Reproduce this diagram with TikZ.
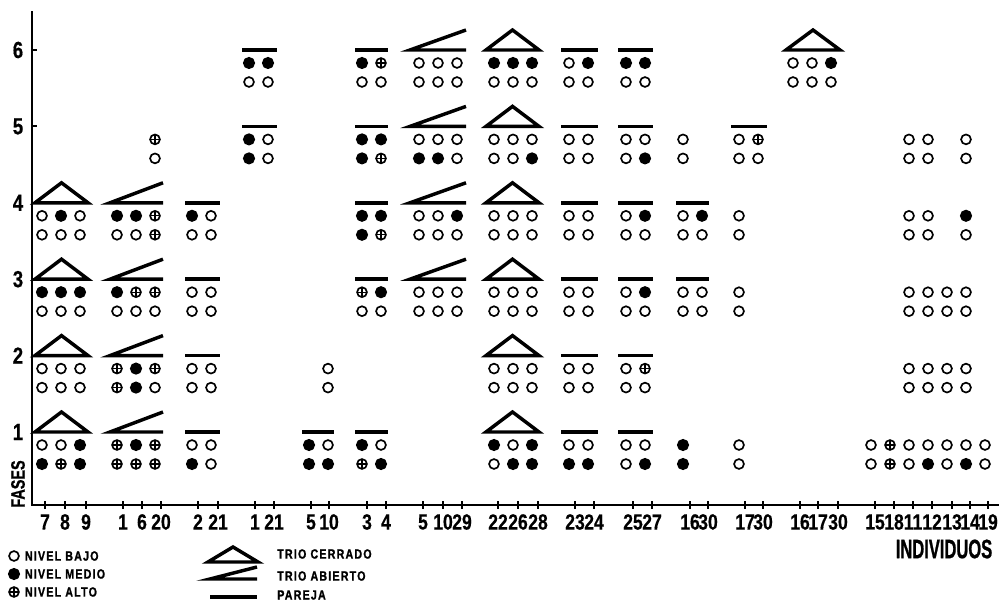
\documentclass[tikz,border=0pt]{standalone}
\usepackage{fontspec}
\setmainfont{Liberation Sans}
\newfontfamily\cifras{Liberation Sans Bold}[FakeStretch=0.8,FakeBold=0.4]
\newfontfamily\rotulo{Liberation Sans Bold}[FakeStretch=0.62,FakeBold=0.8]
\newfontfamily\rotfases{Liberation Sans Bold}[FakeStretch=0.74,FakeBold=0.8]
\newfontfamily\leyenda{Liberation Sans Bold}[FakeStretch=0.8,LetterSpace=9,FakeBold=1.2]
\usetikzlibrary{positioning}

% y de cada fase (px)
\newcommand{\yf}[1]{(508.4-76.4*(#1))}
% simbolos de grupo: x inicial, x final, fase
\newcommand{\cerrado}[3]{\draw[simbolo] (#1,{\yf{#3}}) -- (#2,{\yf{#3}}) -- ({(#1+#2)/2},{\yf{#3}-20}) -- cycle;}
\newcommand{\abierto}[3]{\draw[simbolo] (#2,{\yf{#3}-20}) -- (#1,{\yf{#3}}) -- (#2,{\yf{#3}});}
\newcommand{\pareja}[3]{\draw[simbolo] (#1,{\yf{#3}}) -- (#2,{\yf{#3}});}
% niveles: x de la 1a columna, fase, lista fila1/fila2
\newcommand{\niveles}[3]{%
  \foreach \a/\b [count=\i from 0] in {#3} {
    \node[\a] (c#1-#2-\i a) at ({#1+19*\i},{\yf{#2}+13}) {};
    \node[\b] (c#1-#2-\i b) at ({#1+19*\i},{\yf{#2}+32}) {};
  }}

\begin{document}
\begin{tikzpicture}[
  x=0.75pt, y=-0.75pt,
  eje/.style={line width=2.2pt, line cap=rect},
  marca/.style={line width=1.5pt},
  simbolo/.style={line width=2.6pt, line join=miter},
  nivel/.style={circle, inner sep=0pt, minimum size=7.4pt, line width=1.25pt},
  bajo/.style={nivel, draw, fill=white},
  medio/.style={nivel, draw, fill=black, minimum size=7.8pt},
  alto/.style={nivel, draw, fill=white,
    path picture={\draw[line width=0.8pt]
      (path picture bounding box.north) -- (path picture bounding box.south)
      (path picture bounding box.west) -- (path picture bounding box.east);}},
  nada/.style={inner sep=0pt, minimum size=0pt},
  numx/.style={font=\cifras\fontsize{16.5}{17}\selectfont, inner sep=0pt},
  numy/.style={font=\cifras\fontsize{17.5}{18}\selectfont, inner sep=0pt},
  legtext/.style={font=\leyenda\fontsize{10}{11}\selectfont, inner sep=0pt, anchor=west}
]
\useasboundingbox (0,0) rectangle (1005,605);

% ---------- ejes ----------
\coordinate (origen) at (32,505);
\coordinate (ytop) at (32,12);
\coordinate (xend) at (998,505);
\draw[eje] (ytop) -- (origen) -- (xend);

\foreach \f in {1,...,6} {
  \draw[marca] (32,{\yf{\f}}) -- (37,{\yf{\f}});
  \node[numy] (f\f) at (18,{\yf{\f}}) {\f};
}

\foreach \t/\n [count=\i] in {45/7,65/8,86/9,123/1,142/6,161/20,198/2,218/21,
    255/1,274/21,311/5,329/10,367/3,386/4,423/5,443/10,462/29,498/22,518/26,
    538/28,575/23,594/24,633/25,652/27,690/16,708/30,745/17,763/30,800/16,
    818/17,838/30,875/15,894/18,913/11,932/12,952/13,970/14,988/19} {
  \draw[marca] (\t,501) -- (\t,509);
  \node[numx] (x\i) at (\t,522) {\n};
}

\node[rotate=90, inner sep=0pt, font=\rotfases\fontsize{14.6}{15}\selectfont]
  (fases) at (18,484) {FASES};
\node[inner sep=0pt, font=\rotulo\fontsize{20}{21}\selectfont]
  (individuos) at (944,549) {INDIVIDUOS};

% ---------- 7 8 9 ----------
\cerrado{35}{88}{4}   \niveles{42}{4}{bajo/bajo,medio/bajo,bajo/bajo}
\cerrado{35}{88}{3}   \niveles{42}{3}{medio/bajo,medio/bajo,medio/bajo}
\cerrado{35}{88}{2}   \niveles{42}{2}{bajo/bajo,bajo/bajo,bajo/bajo}
\cerrado{35}{88}{1}   \niveles{42}{1}{bajo/medio,bajo/alto,medio/medio}

% ---------- 1 6 20 ----------
\niveles{117}{5}{nada/nada,nada/nada,alto/bajo}
\abierto{110}{163}{4} \niveles{117}{4}{medio/bajo,medio/bajo,alto/alto}
\abierto{110}{163}{3} \niveles{117}{3}{medio/bajo,alto/bajo,alto/bajo}
\abierto{110}{163}{2} \niveles{117}{2}{alto/alto,medio/medio,alto/bajo}
\abierto{110}{163}{1} \niveles{117}{1}{alto/alto,medio/alto,alto/alto}

% ---------- 2 21 ----------
\pareja{185}{220}{4}  \niveles{192}{4}{medio/bajo,bajo/bajo}
\pareja{185}{220}{3}  \niveles{192}{3}{bajo/bajo,bajo/bajo}
\pareja{185}{220}{2}  \niveles{192}{2}{bajo/bajo,bajo/bajo}
\pareja{185}{220}{1}  \niveles{192}{1}{bajo/medio,bajo/bajo}

% ---------- 1 21 ----------
\pareja{242}{277}{6}  \niveles{249}{6}{medio/bajo,medio/bajo}
\pareja{242}{277}{5}  \niveles{249}{5}{medio/medio,bajo/bajo}

% ---------- 5 10 ----------
\niveles{309}{2}{nada/nada,bajo/bajo}
\pareja{302}{334}{1}  \niveles{309}{1}{medio/medio,bajo/medio}

% ---------- 3 4 ----------
\pareja{355}{388}{6}  \niveles{362}{6}{medio/bajo,alto/bajo}
\pareja{355}{388}{5}  \niveles{362}{5}{medio/medio,medio/alto}
\pareja{355}{388}{4}  \niveles{362}{4}{medio/medio,medio/alto}
\pareja{355}{388}{3}  \niveles{362}{3}{alto/bajo,medio/bajo}
\pareja{355}{388}{1}  \niveles{362}{1}{medio/alto,bajo/medio}

% ---------- 5 10 29 ----------
\abierto{410}{466}{6} \niveles{419}{6}{bajo/bajo,bajo/bajo,bajo/bajo}
\abierto{410}{466}{5} \niveles{419}{5}{bajo/medio,bajo/medio,bajo/bajo}
\abierto{410}{466}{4} \niveles{419}{4}{bajo/bajo,bajo/bajo,medio/bajo}
\abierto{410}{466}{3} \niveles{419}{3}{bajo/bajo,bajo/bajo,bajo/bajo}

% ---------- 22 26 28 ----------
\cerrado{486}{539}{6} \niveles{494}{6}{medio/bajo,medio/bajo,medio/bajo}
\cerrado{486}{539}{5} \niveles{494}{5}{bajo/bajo,bajo/bajo,bajo/medio}
\cerrado{486}{539}{4} \niveles{494}{4}{bajo/bajo,bajo/bajo,bajo/bajo}
\cerrado{486}{539}{3} \niveles{494}{3}{bajo/bajo,bajo/bajo,bajo/bajo}
\cerrado{486}{539}{2} \niveles{494}{2}{bajo/bajo,bajo/bajo,bajo/bajo}
\cerrado{486}{539}{1} \niveles{494}{1}{medio/bajo,bajo/medio,medio/medio}

% ---------- 23 24 ----------
\pareja{561}{598}{6}  \niveles{569}{6}{bajo/bajo,medio/bajo}
\foreach \f in {2,...,5} {
  \pareja{561}{598}{\f} \niveles{569}{\f}{bajo/bajo,bajo/bajo}
}
\pareja{561}{598}{1}  \niveles{569}{1}{bajo/medio,bajo/medio}

% ---------- 25 27 ----------
\pareja{618}{653}{6}  \niveles{626}{6}{medio/bajo,medio/bajo}
\pareja{618}{653}{5}  \niveles{626}{5}{bajo/bajo,bajo/medio}
\pareja{618}{653}{4}  \niveles{626}{4}{bajo/bajo,medio/bajo}
\pareja{618}{653}{3}  \niveles{626}{3}{bajo/bajo,medio/bajo}
\pareja{618}{653}{2}  \niveles{626}{2}{bajo/bajo,alto/bajo}
\pareja{618}{653}{1}  \niveles{626}{1}{bajo/bajo,bajo/medio}

% ---------- 16 30 ----------
\niveles{683}{5}{bajo/bajo}
\pareja{676}{709}{4}  \niveles{683}{4}{bajo/bajo,medio/bajo}
\pareja{676}{709}{3}  \niveles{683}{3}{bajo/bajo,bajo/bajo}
\niveles{683}{1}{medio/medio}

% ---------- 17 30 ----------
\pareja{731}{767}{5}  \niveles{739}{5}{bajo/bajo,alto/bajo}
\niveles{739}{4}{bajo/bajo}
\niveles{739}{3}{bajo/bajo}
\niveles{739}{1}{bajo/bajo}

% ---------- 16 17 30 ----------
\cerrado{786}{840}{6} \niveles{793}{6}{bajo/bajo,bajo/bajo,medio/bajo}

% ---------- 15 18 11 12 13 14 19 ----------
\niveles{871}{5}{nada/nada,nada/nada,bajo/bajo,bajo/bajo,nada/nada,bajo/bajo}
\niveles{871}{4}{nada/nada,nada/nada,bajo/bajo,bajo/bajo,nada/nada,medio/bajo}
\niveles{871}{3}{nada/nada,nada/nada,bajo/bajo,bajo/bajo,bajo/bajo,bajo/bajo}
\niveles{871}{2}{nada/nada,nada/nada,bajo/bajo,bajo/bajo,bajo/bajo,bajo/bajo}
\niveles{871}{1}{bajo/bajo,alto/alto,bajo/bajo,bajo/medio,bajo/bajo,bajo/medio,bajo/bajo}

% ---------- leyenda ----------
\node[bajo]  (lbajo)  at (14,556) {};
\node[medio] (lmedio) at (14,574) {};
\node[alto]  (lalto)  at (14,592) {};
\node[legtext, right=8pt of lbajo.center]  {NIVEL BAJO};
\node[legtext, right=8pt of lmedio.center] {NIVEL MEDIO};
\node[legtext, right=8pt of lalto.center]  {NIVEL ALTO};

\draw[simbolo] (208,562) -- (258,562) -- (233,547) -- cycle;
\draw[simbolo] (257,567) -- (210,579) -- (257,579);
\draw[simbolo] (210,597) -- (257,597);
\coordinate (ltri) at (277,554);
\coordinate (labi) at (277,576);
\coordinate (lpar) at (277,595);
\node[legtext] (tcerrado) at (ltri) {TRIO CERRADO};
\node[legtext] (tabierto) at (labi) {TRIO ABIERTO};
\node[legtext] (tpareja)  at (lpar) {PAREJA};

\end{tikzpicture}
\end{document}
